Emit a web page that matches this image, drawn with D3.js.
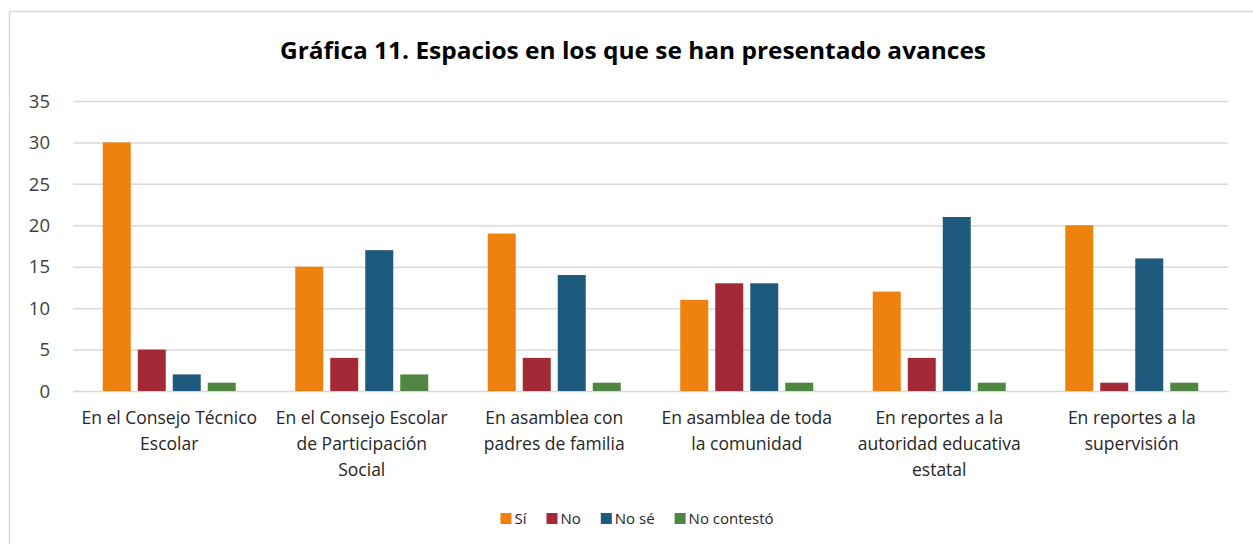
<!doctype html>
<html>
<head>
<meta charset="utf-8">
<script src="https://cdnjs.cloudflare.com/ajax/libs/d3/7.8.5/d3.min.js"></script>
<style>
body { margin: 0; background: #fff; }
text { font-family: "Open Sans", sans-serif; fill: #404040; }
.grid line { stroke: #d9d9d9; stroke-width: 1.5px; }
</style>
</head>
<body>
<svg width="1253" height="544"></svg>
<script>
var categories = [
  "En el Consejo Técnico\nEscolar",
  "En el Consejo Escolar\nde Participación\nSocial",
  "En asamblea con\npadres de familia",
  "En asamblea de toda\nla comunidad",
  "En reportes a la\nautoridad educativa\nestatal",
  "En reportes a la\nsupervisión"
];
var series = ["Sí", "No", "No sé", "No contestó"];
var si = [30, 15, 19, 11, 12, 20];
var no = [5, 4, 4, 13, 4, 1];
var nose = [2, 17, 14, 13, 21, 16];
var nocontesto = [1, 2, 1, 1, 1, 1];
var yTicks = [0, 5, 10, 15, 20, 25, 30, 35];
var colors = ["#ef810e", "#a32937", "#1e5a7d", "#4f8742"];

var values = [si, no, nose, nocontesto];
var svg = d3.select("svg");

svg.append("rect")
  .attr("x", 9.5).attr("y", 11.5)
  .attr("width", 1260).attr("height", 560)
  .attr("fill", "#fff").attr("stroke", "#d9d9d9").attr("stroke-width", 1.5);

var plotLeft = 73, plotRight = 1228, plotTop = 101, plotBottom = 391;

var x = d3.scaleBand().domain(d3.range(categories.length)).range([plotLeft, plotRight]);
var groupW = 133;
var xs = d3.scaleBand().domain(d3.range(series.length))
  .range([(x.bandwidth() - groupW) / 2, (x.bandwidth() + groupW) / 2]).paddingInner(0.2);
var y = d3.scaleLinear().domain([0, 35]).range([plotBottom, plotTop]);

// gridlines
svg.append("g").attr("class", "grid")
  .attr("transform", "translate(" + plotLeft + ",0)")
  .call(d3.axisLeft(y).tickValues(yTicks).tickSize(-(plotRight - plotLeft)).tickFormat(""))
  .call(g => g.select(".domain").remove());

// y tick labels
svg.append("g").selectAll("text")
  .data(yTicks).enter().append("text")
  .attr("x", 50).attr("y", d => y(d))
  .attr("dy", "0.36em")
  .attr("text-anchor", "end")
  .style("font-size", "18.5px")
  .text(d => d);

// bars
var groups = svg.append("g").selectAll("g")
  .data(categories).enter().append("g")
  .attr("transform", (d, i) => "translate(" + x(i) + ",0)");

groups.selectAll("rect")
  .data((d, i) => values.map((v, s) => ({s: s, v: v[i]})))
  .enter().append("rect")
  .attr("x", d => xs(d.s))
  .attr("width", xs.bandwidth())
  .attr("y", d => y(d.v))
  .attr("height", d => plotBottom - y(d.v))
  .attr("fill", d => colors[d.s]);

// category labels
svg.append("g").selectAll("text")
  .data(categories).enter().append("text")
  .attr("text-anchor", "middle")
  .style("font-size", "17.5px")
  .style("fill", "#262626")
  .each(function (d, i) {
    var t = d3.select(this);
    d.split("\n").forEach((line, k) => {
      t.append("tspan")
        .attr("x", x(i) + x.bandwidth() / 2)
        .attr("y", 424 + k * 26)
        .text(line);
    });
  });

// title
svg.append("text")
  .attr("x", 633).attr("y", 59)
  .attr("text-anchor", "middle")
  .attr("textLength", 706)
  .attr("lengthAdjust", "spacingAndGlyphs")
  .style("font-size", "24px")
  .style("font-weight", "bold")
  .style("fill", "#000")
  .text("Gráfica 11. Espacios en los que se han presentado avances");

// legend
var legend = svg.append("g").attr("transform", "translate(0,513)");
var items = legend.selectAll("g")
  .data(series).enter().append("g");
items.append("rect").attr("width", 11).attr("height", 11)
  .attr("fill", (d, i) => colors[i]);
items.append("text")
  .attr("x", 14).attr("y", 11)
  .style("font-size", "15px")
  .style("fill", "#262626")
  .text(d => d);
var gap = 20, pos = 0, offsets = [];
items.each(function () {
  offsets.push(pos);
  pos += 14 + d3.select(this).select("text").node().getComputedTextLength() + gap;
});
var total = pos - gap;
items.attr("transform", (d, i) => "translate(" + (637 - total / 2 + offsets[i]) + ",0)");
</script>
</body>
</html>
